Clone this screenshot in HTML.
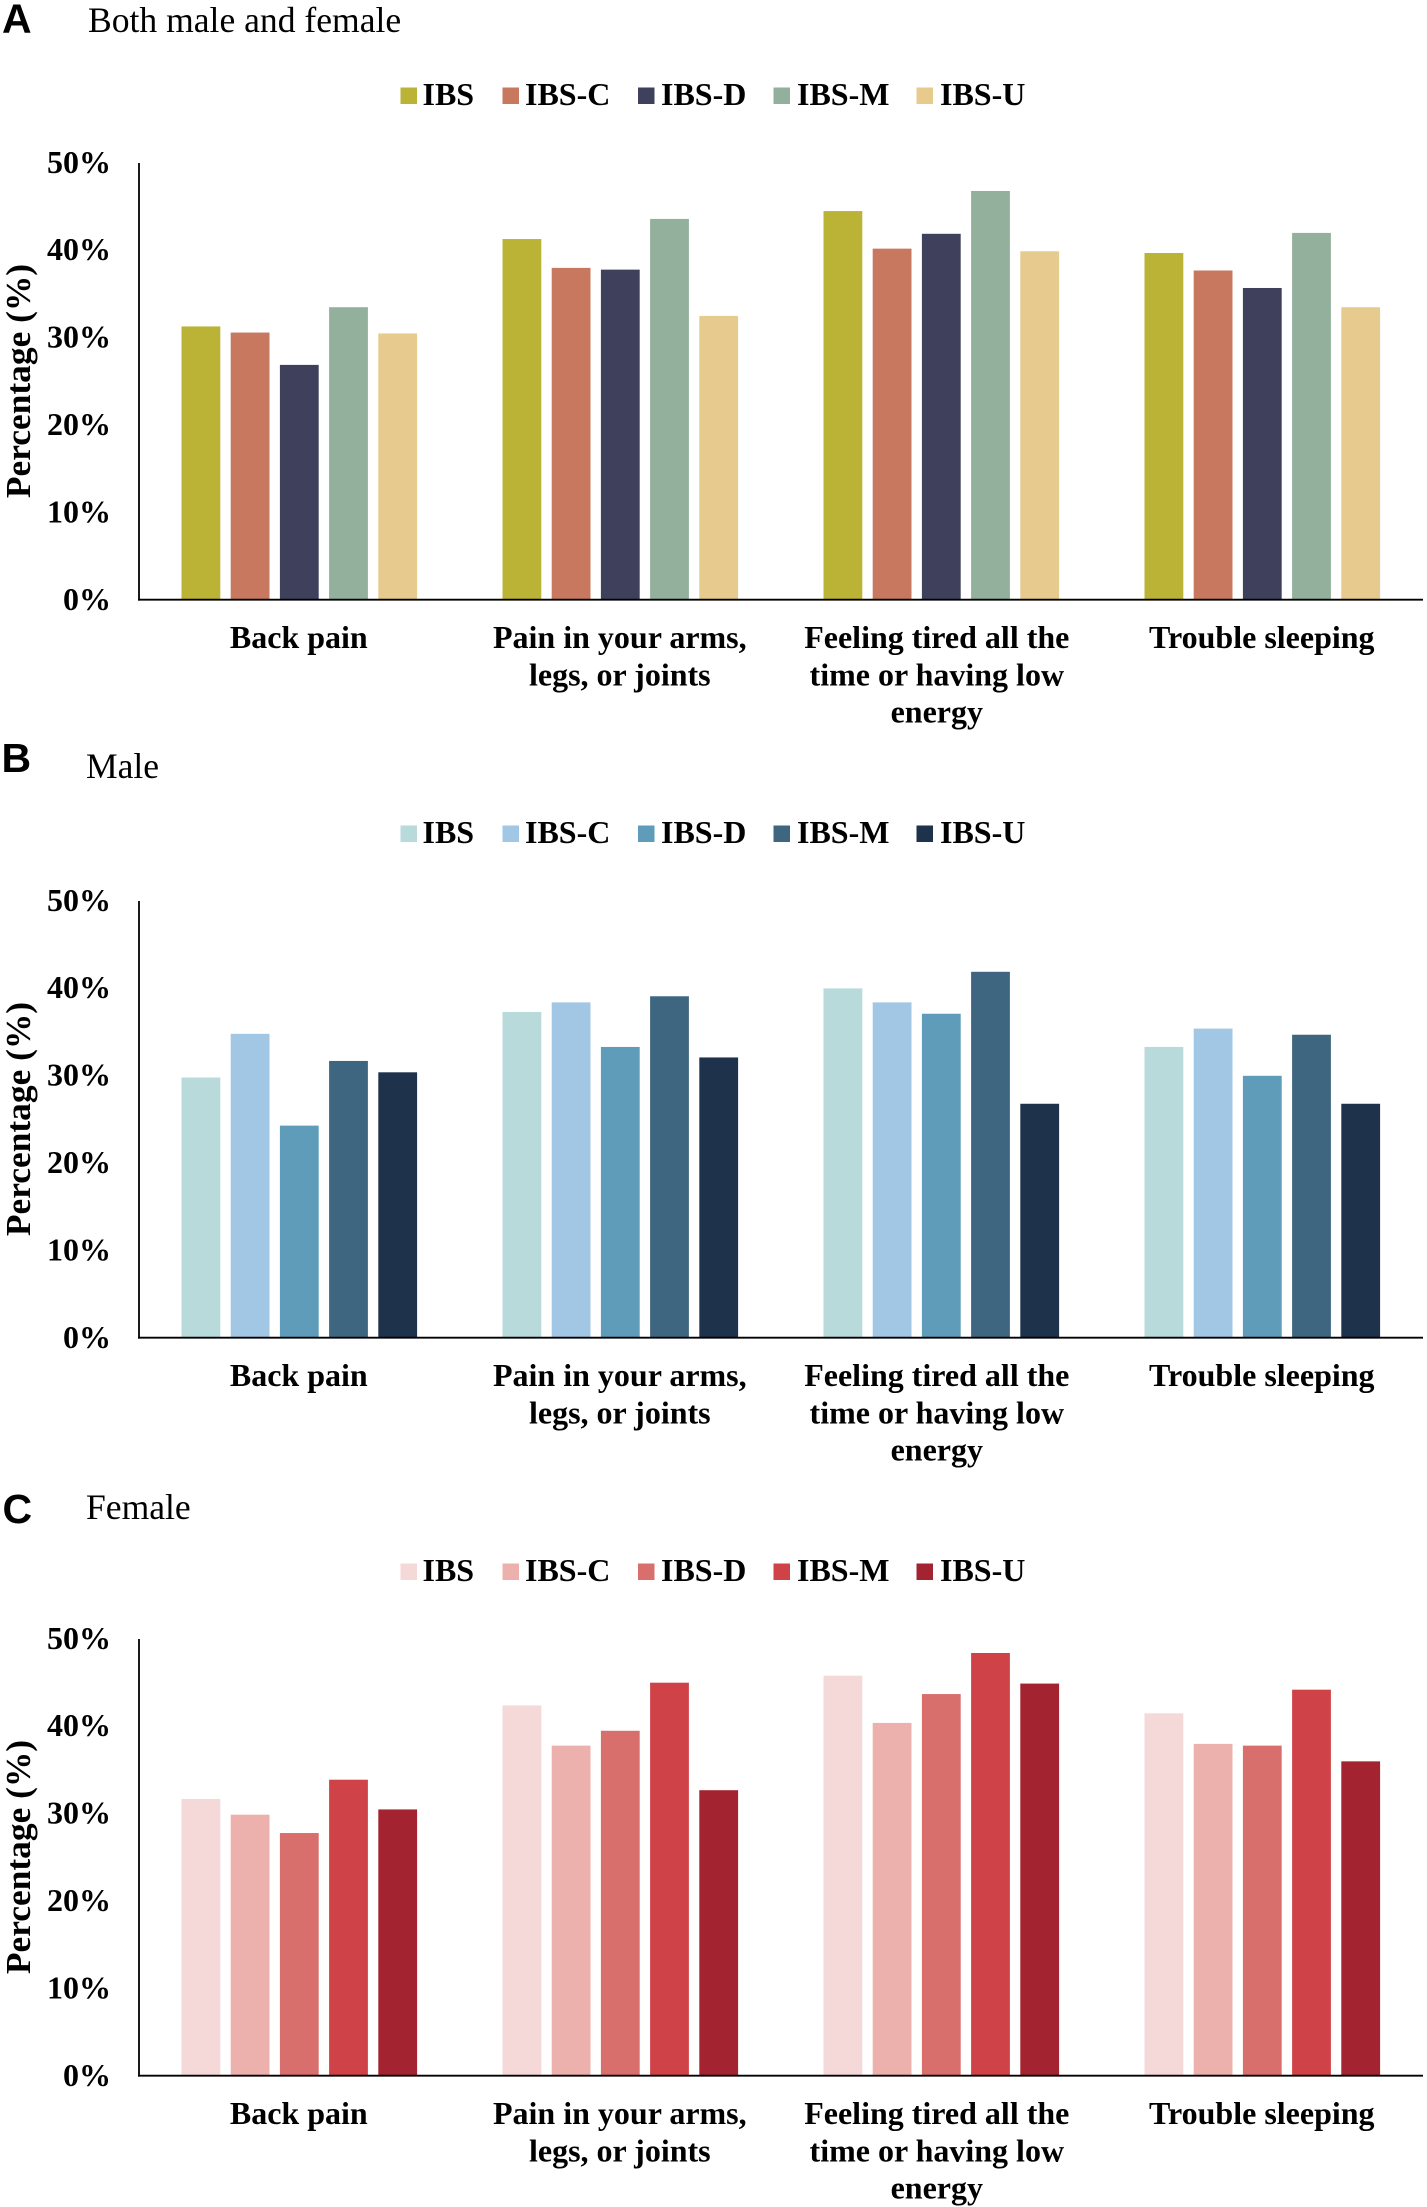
<!DOCTYPE html>
<html lang="en">
<head>
<meta charset="utf-8">
<title>Percentage of symptoms by IBS subtype</title>
<style>
html,body{margin:0;padding:0;background:#fff;}
svg{display:block;}
text{font-family:"Liberation Serif",serif;fill:#000;}
.bold{font-weight:bold;font-size:32px;}
.title{font-size:35.6px;}
.letter{font-family:"Liberation Sans",sans-serif;font-weight:bold;font-size:41px;}
.ytitle{font-weight:bold;font-size:35.4px;}
</style>
</head>
<body>
<svg id="figure" xmlns="http://www.w3.org/2000/svg" width="1427" height="2207" viewBox="0 0 1427 2207"></svg>
<script>
const categories = [
  ["Back pain"],
  ["Pain in your arms,", "legs, or joints"],
  ["Feeling tired all the", "time or having low", "energy"],
  ["Trouble sleeping"]
];
const seriesNames = ["IBS", "IBS-C", "IBS-D", "IBS-M", "IBS-U"];
const yTicks = [0, 10, 20, 30, 40, 50];

const bothValues = [
  [31.3, 41.3, 44.5, 39.7],
  [30.6, 38.0, 40.2, 37.7],
  [26.9, 37.8, 41.9, 35.7],
  [33.5, 43.6, 46.8, 42.0],
  [30.5, 32.5, 39.9, 33.5]
];
const maleValues = [
  [29.8, 37.3, 40.0, 33.3],
  [34.8, 38.4, 38.4, 35.4],
  [24.3, 33.3, 37.1, 30.0],
  [31.7, 39.1, 41.9, 34.7],
  [30.4, 32.1, 26.8, 26.8]
];
const femaleValues = [
  [31.7, 42.4, 45.8, 41.5],
  [29.9, 37.8, 40.4, 38.0],
  [27.8, 39.5, 43.7, 37.8],
  [33.9, 45.0, 48.4, 44.2],
  [30.5, 32.7, 44.9, 36.0]
];

const bothColors = ["#BBB336", "#C97860", "#3F415C", "#92B09B", "#E7CB8E"];
const maleColors = ["#B8DADA", "#A2C7E4", "#5E9CBA", "#3F6680", "#1E324B"];
const femaleColors = ["#F5D9D9", "#ECB1AD", "#D96F6C", "#CF4348", "#A32331"];

const panels = [
  {key: "both", letter: "A", title: "Both male and female", values: bothValues, colors: bothColors,
   base: 600, letterX: 2, letterY: 32.3, titleX: 88, titleY: 32, legendTop: 87.5},
  {key: "male", letter: "B", title: "Male", values: maleValues, colors: maleColors,
   base: 1338, letterX: 1.5, letterY: 772, titleX: 86, titleY: 778, legendTop: 825.5},
  {key: "female", letter: "C", title: "Female", values: femaleValues, colors: femaleColors,
   base: 2076, letterX: 2.5, letterY: 1523, titleX: 86, titleY: 1519, legendTop: 1563.5}
];

const NS = "http://www.w3.org/2000/svg";
const svg = document.getElementById("figure");
const AXIS_H = 437, AXIS_MAX = 50, AXIS_X = 139, AXIS_END = 1423;
const GROUP_X0 = 181.5, GROUP_STEP = 321, BAR_W = 38.8, BAR_STEP = 49.2;
const LEGEND_SWATCH_X = [400.5, 502.5, 638, 773.5, 916.5];
const LEGEND_TEXT_X = [422.5, 525, 661, 797, 940];
const LABEL_DX = [0, 0, -4, 0];

function yScale(base, v) { return base - v / AXIS_MAX * AXIS_H; }
function barX(g, s) { return GROUP_X0 + g * GROUP_STEP + s * BAR_STEP; }
function groupCenter(g) { return GROUP_X0 + g * GROUP_STEP + (4 * BAR_STEP + BAR_W) / 2 - 0.5; }

function make(tag, attrs, parent, content) {
  const el = document.createElementNS(NS, tag);
  for (const k in attrs) el.setAttribute(k, attrs[k]);
  if (content !== undefined) el.textContent = content;
  parent.appendChild(el);
  return el;
}

panels.forEach(function (p) {
  const g = make("g", {}, svg);
  
  

  const letter = make("text", {x: p.letterX, y: p.letterY, class: "letter"}, g, p.letter);
  
  

  const title = make("text", {x: p.titleX, y: p.titleY, class: "title"}, g, p.title);
  
  

  seriesNames.forEach(function (name, i) {
    const sw = make("rect", {x: LEGEND_SWATCH_X[i], y: p.legendTop, width: 16.5, height: 16.5, fill: p.colors[i]}, g);
    
    
    const t = make("text", {x: LEGEND_TEXT_X[i], y: p.legendTop + 17.5, class: "bold"}, g, name);
    
    
  });

  p.values.forEach(function (row, s) {
    row.forEach(function (v, c) {
      const top = yScale(p.base, v);
      const bar = make("rect", {x: barX(c, s), y: top, width: BAR_W, height: p.base - top, fill: p.colors[s]}, g);
      
      
    });
  });

  const yAxis = make("line", {x1: AXIS_X, x2: AXIS_X, y1: yScale(p.base, AXIS_MAX), y2: p.base + 0.6, stroke: "#000", "stroke-width": 1.8}, g);
  
  
  const xAxis = make("line", {x1: AXIS_X - 0.9, x2: AXIS_END, y1: p.base - 0.3, y2: p.base - 0.3, stroke: "#000", "stroke-width": 1.8}, g);
  
  

  yTicks.forEach(function (v) {
    const t = make("text", {x: 111, y: yScale(p.base, v) + 9.8, "text-anchor": "end", class: "bold"}, g, v + "%");
    
    
  });

  const yt = make("text", {transform: "translate(30," + (p.base - 219) + ") rotate(-90)", "text-anchor": "middle", class: "ytitle"}, g, "Percentage (%)");
  
  

  categories.forEach(function (lines, c) {
    lines.forEach(function (line, n) {
      const t = make("text", {x: groupCenter(c) + LABEL_DX[c], y: p.base + 48 + n * 37.3, "text-anchor": "middle", class: "bold"}, g, line);
      
      
    });
  });
});
</script>
</body>
</html>
